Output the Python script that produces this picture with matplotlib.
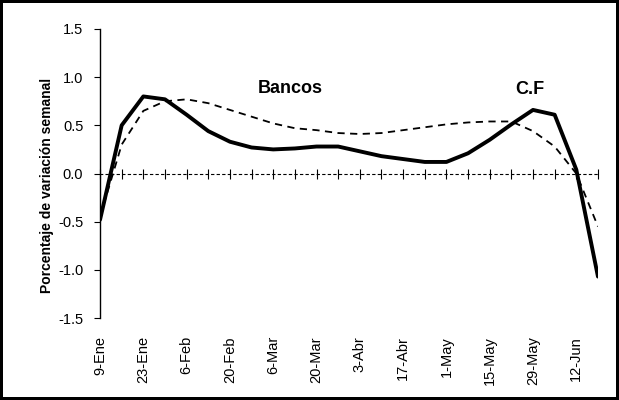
import matplotlib
matplotlib.use("Agg")
import matplotlib.pyplot as plt
import numpy as np

plt.rcParams['font.family'] = ['Liberation Sans', 'DejaVu Sans']

weeks = ["9-Ene", "16-Ene", "23-Ene", "30-Ene", "6-Feb", "13-Feb", "20-Feb", "27-Feb",
         "6-Mar", "13-Mar", "20-Mar", "27-Mar", "3-Abr", "10-Abr", "17-Abr", "24-Abr",
         "1-May", "8-May", "15-May", "22-May", "29-May", "5-Jun", "12-Jun", "19-Jun"]
cf = [-0.48, 0.50, 0.80, 0.77, 0.61, 0.44, 0.33, 0.27, 0.25, 0.26, 0.28, 0.28,
      0.23, 0.18, 0.15, 0.12, 0.12, 0.21, 0.35, 0.51, 0.66, 0.61, 0.04, -1.07]
bancos = [-0.45, 0.30, 0.65, 0.75, 0.77, 0.73, 0.66, 0.59, 0.52, 0.47, 0.45, 0.42,
          0.41, 0.42, 0.45, 0.48, 0.51, 0.53, 0.54, 0.54, 0.44, 0.28, 0.00, -0.55]
label_weeks = weeks[::2]
yticks = [-1.5, -1.0, -0.5, 0.0, 0.5, 1.0, 1.5]

x = np.arange(len(weeks))

fig = plt.figure(figsize=(6.19, 4.0), dpi=100, facecolor='white',
                 edgecolor='black', linewidth=4)
ax = fig.add_axes([0.1616, 0.205, 0.966 - 0.1616, 0.9275 - 0.205])

ax.plot(x, bancos, color='black', lw=1.3, dashes=(4, 3), zorder=3)
ax.plot(x, cf, color='black', lw=2.8, solid_capstyle='round', zorder=4)

ax.set_xlim(0, len(weeks) - 1)
ax.set_ylim(-1.5, 1.5)

for s in ['top', 'right']:
    ax.spines[s].set_visible(False)
ax.spines['left'].set_linewidth(1.0)
ax.spines['bottom'].set_position(('data', 0))
ax.spines['bottom'].set_linestyle((0, (2, 3)))
ax.spines['bottom'].set_linewidth(0.8)

ax.set_yticks(yticks)
ax.set_yticklabels([f"{v:.1f}" for v in yticks], fontsize=10.5)
ax.tick_params(axis='y', direction='out', length=4, width=0.8, pad=8)

ax.set_xticks(x)
ax.tick_params(axis='x', direction='inout', length=7, width=0.8, labelbottom=False)

sec = ax.secondary_xaxis(0.0)
sec.set_xticks(x[::2])
sec.set_xticklabels(label_weeks, rotation=90, fontsize=10.5)
sec.tick_params(length=0, pad=13)
sec.spines['bottom'].set_visible(False)

ax.set_ylabel("Porcentaje de variación semanal", fontsize=10, fontweight='bold')
ax.yaxis.set_label_coords(-0.093, 0.46)

ax.text(8.8, 0.88, "Bancos", fontsize=13, fontweight='bold', ha='center', va='center')
ax.text(19.85, 0.87, "C.F", fontsize=13, fontweight='bold', ha='center', va='center')

fig.savefig("out.png", dpi=100, facecolor='white', edgecolor=fig.get_edgecolor())
